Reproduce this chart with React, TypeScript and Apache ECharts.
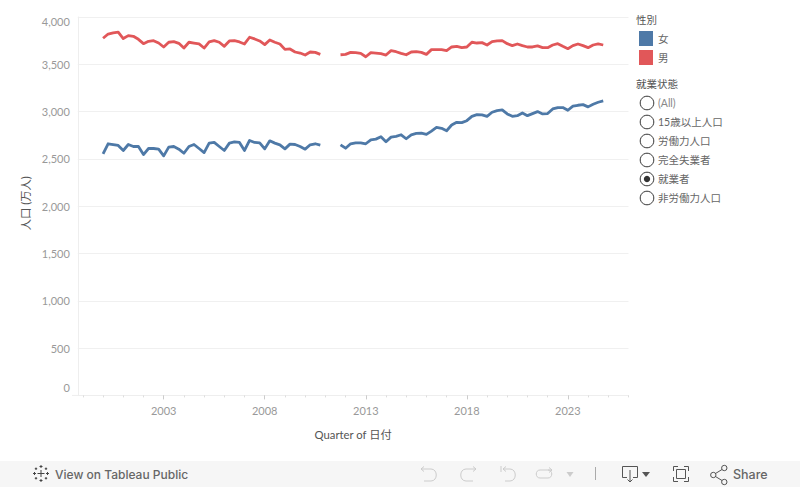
import React, { useEffect, useRef } from "react";
import * as echarts from "echarts";

const years = Array.from({ length: 27 }, (_, i) => 1999 + i);
const categories = ["1998 Q4", ...years.flatMap((y) => [1, 2, 3, 4].map((q) => `${y} Q${q}`)), "2026 Q1"];
const yearLabels = ["2003 Q1", "2008 Q1", "2013 Q1", "2018 Q1", "2023 Q1"];
const pad = [null, null, null, null, null];

// 2000 Q1 .. 2024 Q4, 万人; 2011 Q1-Q3 are missing
const female = [
  2553, 2660, 2652, 2642, 2589, 2652, 2631, 2631, 2546, 2610, 2610, 2603, 2532, 2624, 2631, 2603, 2560, 2631, 2652, 2610, 2567, 2667,
  2674, 2631, 2589, 2667, 2681, 2674, 2589, 2695, 2674, 2670, 2606, 2691, 2667, 2649, 2606, 2656, 2652, 2631, 2603, 2649, 2660, 2645,
  null, null, null,
  2649, 2613, 2660, 2670, 2670, 2660, 2702, 2709, 2734, 2681, 2730, 2738, 2755, 2713, 2755, 2769, 2773, 2759, 2794, 2833, 2823, 2798,
  2858, 2887, 2883, 2904, 2950, 2968, 2965, 2950, 2993, 3011, 3018, 2975, 2950, 2957, 2986, 2957, 2979, 3000, 2975, 2979, 3028, 3043,
  3043, 3014, 3057, 3067, 3074, 3050, 3078, 3099, 3113,
];
const male = [
  3775, 3820, 3832, 3839, 3772, 3803, 3796, 3764, 3718, 3743, 3750, 3725, 3683, 3733, 3740, 3722, 3672, 3733, 3725, 3715, 3672, 3736,
  3750, 3733, 3690, 3747, 3750, 3736, 3715, 3786, 3768, 3747, 3708, 3757, 3733, 3715, 3658, 3662, 3630, 3619, 3598, 3630, 3626, 3605,
  null, null, null,
  3601, 3605, 3626, 3623, 3616, 3580, 3623, 3619, 3612, 3598, 3644, 3633, 3616, 3601, 3630, 3633, 3626, 3605, 3655, 3655, 3655, 3644,
  3683, 3690, 3676, 3683, 3733, 3725, 3729, 3704, 3740, 3747, 3750, 3718, 3697, 3715, 3697, 3683, 3683, 3694, 3676, 3676, 3704, 3718,
  3690, 3665, 3697, 3715, 3697, 3676, 3704, 3715, 3704,
];
const statusOptions = ["(All)", "15歳以上人口", "労働力人口", "完全失業者", "就業者", "非労働力人口"];
const selectedStatus = "就業者";

const FONT = "Lato, 'Noto Sans CJK JP', sans-serif";
const BLUE = "#4e79a7";
const RED = "#e15759";

const shapes: Record<string, string> = {
  tbUndo: "M421 469 H431 C438 469 438 481 431 481 H424 M421 469 L424 466.5 M421 469 L424 471.5",
  tbRedo: "M476 469 H466 C459 469 459 481 466 481 H473 M476 469 L473 466.5 M476 469 L473 471.5",
  tbFirst: "M501 466 V472 M503 469 H510 C517 469 517 481 510 481 H505 M503 469 L506 466.5 M503 469 L506 471.5",
  tbLast: "M552 470 H540 C535 470 535 478 540 478 H548 C553 478 553 470 548 470 M552 470 L549 467.5 M552 470 L549 472.5",
  tbDown: "M627 477.5 H622.5 V466.5 H637.5 V477.5 H633 M630 470 V482 M627.5 479.5 L630 482 L632.5 479.5",
  tbFull: "M678 466.5 H673.5 V471 M684 466.5 H688.5 V471 M678 481.5 H673.5 V477 M684 481.5 H688.5 V477 M676.5 469.5 H685.5 V478.5 H676.5 Z",
  tbShare: "M715.5 473.5 L722 469.5 M715.5 476.5 L722 480.5 M716 475 A2.7 2.7 0 1 1 710.6 475 A2.7 2.7 0 1 1 716 475 M727 468 A2.7 2.7 0 1 1 721.6 468 A2.7 2.7 0 1 1 727 468 M727 482 A2.7 2.7 0 1 1 721.6 482 A2.7 2.7 0 1 1 727 482",
  tbLogo:
    "M41 470 V477 M37.5 473.5 H44.5 M41 465 V468 M39.5 466.5 H42.5 M41 479 V482 M39.5 480.5 H42.5 M34.5 472 V475 M33 473.5 H36 M47.5 472 V475 M46 473.5 H49 M36 467.5 V470 M34.8 468.7 H37.2 M46 467.5 V470 M44.8 468.7 H47.2 M36 477 V479.5 M34.8 478.3 H37.2 M46 477 V479.5 M44.8 478.3 H47.2",
};
Object.entries(shapes).forEach(([name, d]) => {
  echarts.graphic.registerShape(name, echarts.graphic.extendPath(d as any, {}));
});

export default function App() {
  const ref = useRef<HTMLDivElement>(null);
  useEffect(() => {
    document.body.style.margin = "0";
    const chart = echarts.init(ref.current!, undefined, { renderer: "svg" });
    const txt = (x: number, y: number, text: string, fill: string, fontSize = 10.5, extra: any = {}) => ({
      type: "text",
      x,
      y,
      style: { text, fill, fontSize, fontFamily: FONT, verticalAlign: "middle", ...extra },
    });
    const icon = (name: string, stroke: string, lineWidth = 1) => ({
      type: name,
      style: { stroke, fill: "none", lineWidth },
    });
    const radios = statusOptions.flatMap((label, i) => {
      const y = 103 + i * 19;
      const out: any[] = [
        { type: "circle", shape: { cx: 647, cy: y, r: 6.8 }, style: { fill: "#fff", stroke: "#333", lineWidth: 1 } },
        txt(658, y, label, i === 0 ? "#888" : "#666"),
      ];
      if (label === selectedStatus) out.push({ type: "circle", shape: { cx: 647, cy: y, r: 3.2 }, style: { fill: "#333" } });
      return out;
    });
    chart.setOption({
      animation: false,
      backgroundColor: "#fff",
      textStyle: { fontFamily: FONT },
      grid: { left: 77.8, right: 171.5, top: 17, height: 378.4, containLabel: false },
      legend: {
        left: 639,
        top: 31,
        padding: 0,
        orient: "vertical",
        itemWidth: 14,
        itemHeight: 15,
        itemGap: 4,
        icon: "rect",
        textStyle: { color: "#666", fontSize: 10.5, fontFamily: FONT },
        selectedMode: false,
        data: ["女", "男"],
      },
      xAxis: [
        {
          type: "category",
          data: categories,
          boundaryGap: false,
          name: "Quarter of 日付",
          nameLocation: "middle",
          nameGap: 33,
          nameTextStyle: { color: "#555", fontSize: 11.3, fontFamily: FONT },
          axisLine: { lineStyle: { color: "#eeeeee", width: 1 } },
          axisTick: { length: 2, lineStyle: { color: "#dddddd" }, interval: (_: number, v: string) => v.endsWith("Q1") },
          axisLabel: {
            color: "#999",
            fontSize: 11,
            margin: 10,
            fontFamily: FONT,
            interval: (_: number, v: string) => yearLabels.includes(v),
            formatter: (v: string) => v.slice(0, 4),
          },
        },
        {
          type: "category",
          data: categories,
          boundaryGap: false,
          position: "bottom",
          axisLine: { show: false },
          axisTick: { length: 4, lineStyle: { color: "#cccccc" }, interval: (_: number, v: string) => yearLabels.includes(v) },
          axisLabel: { show: false },
        },
      ],
      yAxis: {
        type: "value",
        min: 0,
        max: 4000,
        interval: 500,
        name: "人口 (万人)",
        nameLocation: "middle",
        nameGap: 47,
        nameTextStyle: { color: "#555", fontSize: 11.3, fontFamily: FONT, padding: [0, 0, 0, 6] },
        axisLine: { show: true, lineStyle: { color: "#eeeeee" } },
        axisTick: { show: false },
        splitLine: { lineStyle: { color: "#f0f0f0", width: 1 } },
        axisLabel: {
          color: "#999",
          fontSize: 11,
          margin: 8,
          fontFamily: FONT,
          formatter: (v: number) => {
            const s = v.toLocaleString("en-US");
            return v === 0 ? `{low|${s}}` : v === 4000 ? `{high|${s}}` : s;
          },
          rich: {
            low: { color: "#999", fontSize: 11, fontFamily: FONT, padding: [0, 0, 16, 0] },
            high: { color: "#999", fontSize: 11, fontFamily: FONT, padding: [8, 0, 0, 0] },
          },
        },
      },
      series: [
        {
          name: "女",
          type: "line",
          data: [...pad, ...female, ...pad],
          showSymbol: false,
          symbol: "none",
          connectNulls: false,
          color: BLUE,
          lineStyle: { width: 2.8, color: BLUE, join: "round" },
        },
        {
          name: "男",
          type: "line",
          data: [...pad, ...male, ...pad],
          showSymbol: false,
          symbol: "none",
          connectNulls: false,
          color: RED,
          lineStyle: { width: 2.8, color: RED, join: "round" },
        },
      ],
      graphic: [
        { type: "line", shape: { x1: 72, y1: 395.4, x2: 78, y2: 395.4 }, style: { stroke: "#eeeeee", lineWidth: 1 } },
        txt(636, 19.5, "性別", "#555"),
        txt(636, 84, "就業状態", "#555"),
        ...radios,
        { type: "rect", shape: { x: 0, y: 461, width: 800, height: 26 }, style: { fill: "#f6f6f6" } },
        icon("tbLogo", "#444"),
        txt(55, 474, "View on Tableau Public", "#666", 12, { fontFamily: "Inter, sans-serif", fontWeight: 500 }),
        icon("tbUndo", "#cccccc"),
        icon("tbRedo", "#cccccc"),
        icon("tbFirst", "#cccccc"),
        icon("tbLast", "#cccccc"),
        { type: "polygon", shape: { points: [[566.5, 472], [573.5, 472], [570, 477]] }, style: { fill: "#cccccc" } },
        { type: "line", shape: { x1: 595.5, y1: 467, x2: 595.5, y2: 480 }, style: { stroke: "#aaaaaa", lineWidth: 1 } },
        icon("tbDown", "#555"),
        { type: "polygon", shape: { points: [[642, 472], [650, 472], [646, 477]] }, style: { fill: "#555" } },
        icon("tbFull", "#555"),
        icon("tbShare", "#555"),
        txt(733, 474, "Share", "#666", 12.5, { fontFamily: "Inter, sans-serif", fontWeight: 500 }),
      ],
    });
    return () => chart.dispose();
  }, []);
  return <div ref={ref} style={{ width: 800, height: 487 }} />;
}
